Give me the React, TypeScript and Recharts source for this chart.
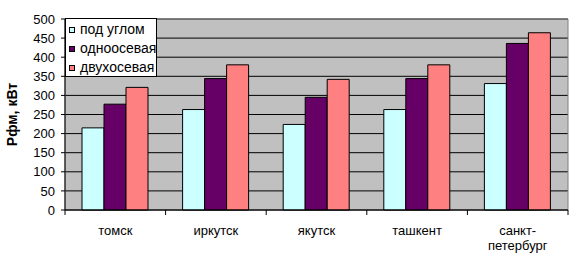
import React from "react";
import { BarChart, Bar, XAxis, YAxis, CartesianGrid, ReferenceArea } from "recharts";

const categories = ["томск", "иркутск", "якутск", "ташкент", "санкт-петербург"];
const podUglom = [215, 263, 224, 263, 331];
const odnoosevaya = [277, 344, 295, 344, 436];
const dvuhosevaya = [321, 380, 342, 380, 464];
const yTicks = [0, 50, 100, 150, 200, 250, 300, 350, 400, 450, 500];
const seriesNames = ["под углом", "одноосевая", "двухосевая"];
const seriesColors = ["#CCFFFF", "#660066", "#FF8080"];

const data = categories.map((c, i) => ({
  name: c,
  s0: podUglom[i],
  s1: odnoosevaya[i],
  s2: dvuhosevaya[i],
}));

const W = 569;
const H = 255;
const LEFT = 65;
const RIGHT = 1;
const band = (W - LEFT - RIGHT) / categories.length;
const FONT = "Liberation Sans, Arial, sans-serif";

const XTick = (props: any) => {
  const { x, y, payload, index } = props;
  const label: string = payload.value;
  const parts = label.includes("-") ? [label.slice(0, label.indexOf("-") + 1), label.slice(label.indexOf("-") + 1)] : [label];
  return (
    <g>
      <line x1={x - band / 2} x2={x - band / 2} y1={y - 8} y2={y - 3} stroke="#000" />
      {index === categories.length - 1 && (
        <line x1={x + band / 2} x2={x + band / 2} y1={y - 8} y2={y - 3} stroke="#000" />
      )}
      {parts.map((p, i) => (
        <text key={i} x={x} y={y + 17 + i * 15} textAnchor="middle" fontSize={13} fill="#000" fontFamily={FONT}>
          {p}
        </text>
      ))}
    </g>
  );
};

const LegendBox = () => (
  <div
    style={{
      position: "absolute",
      left: 65,
      top: 18,
      background: "#fff",
      border: "1px solid #000",
      width: 92,
      height: 59,
      boxSizing: "border-box",
      padding: "1px 0 0 3px",
      fontFamily: FONT,
      fontSize: 14,
      lineHeight: "19px",
      color: "#000",
    }}
  >
    {seriesNames.map((n, i) => (
      <div key={n} style={{ display: "flex", alignItems: "center", whiteSpace: "nowrap", height: 19 }}>
        <span
          style={{
            display: "inline-block",
            width: 4,
            height: 4,
            background: seriesColors[i],
            border: "1px solid #000",
            marginRight: 5,
            flex: "none",
          }}
        />
        {n}
      </div>
    ))}
  </div>
);

export default function App() {
  return (
    <div style={{ position: "absolute", left: 0, top: 0, background: "#fff", width: W, height: H }}>
      <BarChart
        width={W}
        height={H}
        data={data}
        margin={{ top: 19, right: RIGHT, bottom: 0, left: 0 }}
        barCategoryGap={17}
        barGap={0}
      >
        <CartesianGrid vertical={false} stroke="#000" fill="#C0C0C0" fillOpacity={1} />
        <ReferenceArea
          x1={categories[0]}
          x2={categories[categories.length - 1]}
          y1={0}
          y2={500}
          fill="none"
          stroke="#808080"
          ifOverflow="visible"
        />
        <XAxis
          dataKey="name"
          tickLine={false}
          axisLine={{ stroke: "#000" }}
          tick={<XTick />}
          interval={0}
          height={45}
        />
        <YAxis
          width={LEFT}
          domain={[0, 500]}
          ticks={yTicks}
          interval={0}
          tickSize={4}
          tickMargin={6}
          axisLine={{ stroke: "#000" }}
          tickLine={{ stroke: "#000" }}
          tick={{ fontSize: 13, fill: "#000", fontFamily: FONT }}
          label={{
            value: "Рфм, кВт",
            angle: -90,
            position: "insideLeft",
            offset: 12,
            style: { fontSize: 14, fontWeight: "bold", fill: "#000", fontFamily: FONT, textAnchor: "middle" },
          }}
        />
        <Bar dataKey="s0" name={seriesNames[0]} fill={seriesColors[0]} stroke="#000" strokeWidth={1} isAnimationActive={false} />
        <Bar dataKey="s1" name={seriesNames[1]} fill={seriesColors[1]} stroke="#000" strokeWidth={1} isAnimationActive={false} />
        <Bar dataKey="s2" name={seriesNames[2]} fill={seriesColors[2]} stroke="#000" strokeWidth={1} isAnimationActive={false} />
      </BarChart>
      <LegendBox />
    </div>
  );
}
